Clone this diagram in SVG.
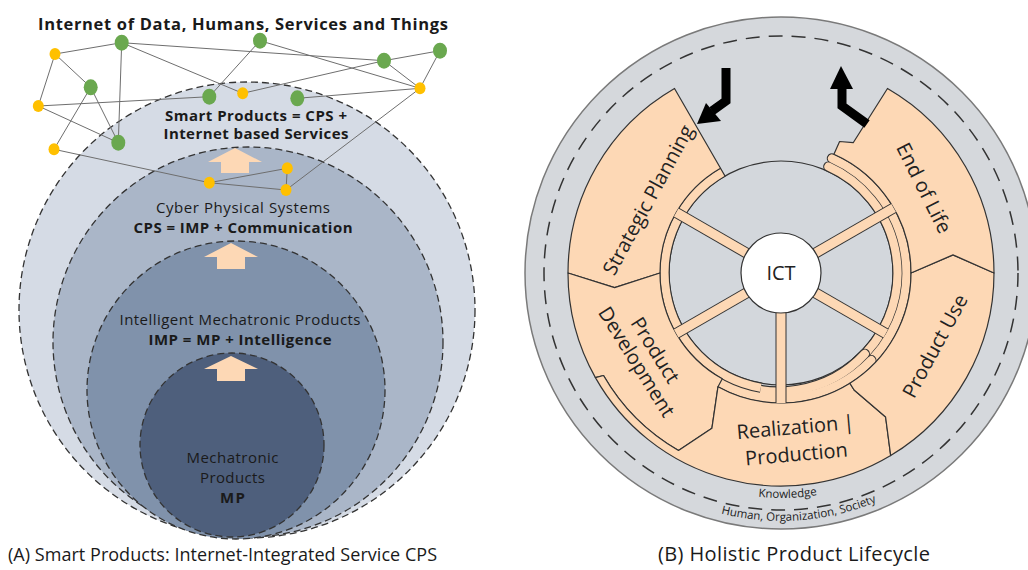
<svg xmlns="http://www.w3.org/2000/svg" width="1028" height="570" viewBox="0 0 1028 570">
  <defs>
    <style>
      .ring { stroke: #333; stroke-width: 1.3; stroke-dasharray: 7 4; }
      .edge { stroke: #6e6e6e; stroke-width: 1; fill: none; }
      .gn { fill: #6aa84f; }
      .yn { fill: #ffc000; }
      .up { fill: #fdd8b5; }
      .lbl { font-family: "Open Sans", "Noto Sans", sans-serif; fill: #1a1a1a; text-anchor: middle; }
      .b { font-weight: 700; }
      .seg { fill: #fdd8b5; stroke: #333; stroke-width: 1.2; stroke-linejoin: round; }
      .tube-o { fill: none; stroke: #333; stroke-width: 10.4; }
      .tube-i { fill: none; stroke: #fdd8b5; stroke-width: 8.2; }
      .spoke-o { stroke: #333; stroke-width: 11; }
      .spoke-i { stroke: #fdd8b5; stroke-width: 9; }
      .seglbl { font-family: "Open Sans", "Noto Sans", sans-serif; font-size: 20px; fill: #222; text-anchor: middle; }
      .ctx { font-family: "Open Sans", "Noto Sans", sans-serif; font-size: 11.5px; fill: #222; text-anchor: middle; }
      .arr { fill: none; stroke: #000; stroke-width: 9; }
    </style>
    <path id="arc-knowledge" d="M556,273 A225,225 0 0 0 1006,273"/>
    <path id="arc-society" d="M533,273 A248,248 0 0 0 1029,273"/>
  </defs>

  <rect width="1028" height="570" fill="#ffffff"/>

  <!-- ===== (A) nested product circles ===== -->
  <g id="ring-smart"><circle class="ring" cx="247" cy="310" r="228" fill="#d5dbe5"/></g>
  <g id="ring-cps"><circle class="ring" cx="248" cy="342" r="195" fill="#aab6c8"/></g>
  <g id="ring-imp"><circle class="ring" cx="236" cy="390" r="149" fill="#8092ab"/></g>
  <g id="ring-mp"><circle class="ring" cx="232" cy="445" r="92" fill="#4e5f7c"/></g>

  <!-- upward block arrows between the levels -->
  <g id="step-arrows">
    <polygon class="up" points="235,148 262,162 249,162 249,173 221,173 221,162 208,162"/>
    <polygon class="up" points="231,243 258,257 245,257 245,269 217,269 217,257 204,257"/>
    <polygon class="up" points="231,356 258,369 245,369 245,381 217,381 217,369 204,369"/>
  </g>

  <!-- network links -->
  <g id="connectors">
    <line class="edge" x1="55" y1="54" x2="121.7" y2="42.7"/>
    <line class="edge" x1="55" y1="54" x2="90.7" y2="87.3"/>
    <line class="edge" x1="55" y1="54" x2="38.3" y2="106"/>
    <line class="edge" x1="121.7" y1="42.7" x2="118.3" y2="142.7"/>
    <line class="edge" x1="121.7" y1="42.7" x2="242.7" y2="93.3"/>
    <line class="edge" x1="121.7" y1="42.7" x2="384" y2="60.7"/>
    <line class="edge" x1="260" y1="40.7" x2="209.3" y2="96.7"/>
    <line class="edge" x1="260" y1="40.7" x2="420" y2="88.3"/>
    <line class="edge" x1="384" y1="60.7" x2="440" y2="50.7"/>
    <line class="edge" x1="384" y1="60.7" x2="420" y2="88.3"/>
    <line class="edge" x1="440" y1="50.7" x2="420" y2="88.3"/>
    <line class="edge" x1="242.7" y1="93.3" x2="384" y2="60.7"/>
    <line class="edge" x1="297.3" y1="98.3" x2="420" y2="88.3"/>
    <line class="edge" x1="38.3" y1="106" x2="209.3" y2="96.7"/>
    <line class="edge" x1="38.3" y1="106" x2="118.3" y2="142.7"/>
    <line class="edge" x1="90.7" y1="87.3" x2="118.3" y2="142.7"/>
    <line class="edge" x1="90.7" y1="87.3" x2="54" y2="149.3"/>
    <line class="edge" x1="54" y1="149.3" x2="209.3" y2="182.7"/>
    <line class="edge" x1="209.3" y1="182.7" x2="287.3" y2="168.3"/>
    <line class="edge" x1="209.3" y1="182.7" x2="286" y2="190"/>
    <line class="edge" x1="287.3" y1="168.3" x2="286" y2="190"/>
    <line class="edge" x1="286" y1="190" x2="420" y2="88.3"/>
  </g>

  <!-- network nodes -->
  <g id="net-g1"><ellipse class="gn" cx="121.7" cy="42.7" rx="7" ry="8"/></g>
  <g id="net-g2"><ellipse class="gn" cx="260" cy="40.7" rx="7" ry="8"/></g>
  <g id="net-g3"><ellipse class="gn" cx="384" cy="60.7" rx="7" ry="8"/></g>
  <g id="net-g4"><ellipse class="gn" cx="440" cy="50.7" rx="7" ry="8"/></g>
  <g id="net-g5"><ellipse class="gn" cx="90.7" cy="87.3" rx="7" ry="8"/></g>
  <g id="net-g6"><ellipse class="gn" cx="209.3" cy="96.7" rx="7" ry="8"/></g>
  <g id="net-g7"><ellipse class="gn" cx="297.3" cy="98.3" rx="7" ry="8"/></g>
  <g id="net-g8"><ellipse class="gn" cx="118.3" cy="142.7" rx="7" ry="8"/></g>
  <g id="net-y1"><ellipse class="yn" cx="55" cy="54" rx="5.5" ry="6"/></g>
  <g id="net-y2"><ellipse class="yn" cx="38.3" cy="106" rx="5.5" ry="6"/></g>
  <g id="net-y3"><ellipse class="yn" cx="54" cy="149.3" rx="5.5" ry="6"/></g>
  <g id="net-y4"><ellipse class="yn" cx="242.7" cy="93.3" rx="5.5" ry="6"/></g>
  <g id="net-y5"><ellipse class="yn" cx="420" cy="88.3" rx="5.5" ry="6"/></g>
  <g id="net-y6"><ellipse class="yn" cx="287.3" cy="168.3" rx="5.5" ry="6"/></g>
  <g id="net-y7"><ellipse class="yn" cx="209.3" cy="182.7" rx="5.5" ry="6"/></g>
  <g id="net-y8"><ellipse class="yn" cx="286" cy="190" rx="5.5" ry="6"/></g>

  <!-- (A) labels -->
  <text class="lbl b" x="243" y="30" font-size="16.5" textLength="410">Internet of Data, Humans, Services and Things</text>
  <text class="lbl b" x="256" y="121" font-size="15" textLength="182">Smart Products = CPS +</text>
  <text class="lbl b" x="256" y="139" font-size="15" textLength="185">Internet based Services</text>
  <text class="lbl" x="243" y="213" font-size="15" textLength="174">Cyber Physical Systems</text>
  <text class="lbl b" x="243" y="233" font-size="15" textLength="219">CPS = IMP + Communication</text>
  <text class="lbl" x="240" y="325" font-size="15" textLength="241">Intelligent Mechatronic Products</text>
  <text class="lbl b" x="240" y="345" font-size="15" textLength="183">IMP = MP + Intelligence</text>
  <text class="lbl" x="232.5" y="463" font-size="15" textLength="92">Mechatronic</text>
  <text class="lbl" x="232.5" y="483" font-size="15" textLength="65">Products</text>
  <text class="lbl b" x="232.5" y="503" font-size="15" textLength="25">MP</text>
  <text class="lbl" x="222.5" y="561" font-size="18" textLength="429" fill="#222">(A) Smart Products: Internet-Integrated Service CPS</text>

  <!-- ===== (B) lifecycle wheel ===== -->
  <g id="context">
    <circle cx="781" cy="273" r="256" fill="#d5d8dc" stroke="#7a7a7a" stroke-width="1.5"/>
    <circle cx="781" cy="273" r="237" fill="none" stroke="#333" stroke-width="1.5" stroke-dasharray="14 9"/>
  </g>

  <g id="wheel-disc"><circle cx="781" cy="273" r="112" fill="#d3d7dc" stroke="#333" stroke-width="1.2"/></g>

  <!-- rim tubes round the wheel -->
  <g id="rim">
    <path class="tube-o" stroke-linecap="round" d="M828.4,166.6 A116.5,116.5 0 0 1 855.9,362.3"/>
    <path class="tube-o" stroke-linecap="round" d="M832,158.4 A125.5,125.5 0 0 1 861.7,369.1"/>
    <path class="tube-i" stroke-linecap="round" d="M828.4,166.6 A116.5,116.5 0 0 1 855.9,362.3"/>
    <path class="tube-i" stroke-linecap="round" d="M832,158.4 A125.5,125.5 0 0 1 861.7,369.1"/>
    <path class="tube-o" stroke-linecap="round" d="M722.9,376.9 A116.5,116.5 0 0 0 864.8,353.9"/>
    <path class="tube-o" stroke-linecap="round" d="M718.2,381.7 A125.5,125.5 0 0 0 871.3,360.2"/>
    <path class="tube-i" stroke-linecap="round" d="M722.9,376.9 A116.5,116.5 0 0 0 864.8,353.9"/>
    <path class="tube-i" stroke-linecap="round" d="M718.2,381.7 A125.5,125.5 0 0 0 871.3,360.2"/>
    <path class="tube-o" d="M760.8,387.7 A116.5,116.5 0 0 1 722.75,172.1"/>
    <path class="tube-i" d="M760.8,387.7 A116.5,116.5 0 0 1 722.75,172.1"/>
  </g>

  <!-- lifecycle phases -->
  <g id="phase-strategic-planning">
    <path class="seg" d="M674.5,88.5 A213,213 0 0 0 568,273 L614.6,287.6 L660,273 A121,121 0 0 1 720.5,168.2 L725,176 Z"/>
    <text class="seglbl" transform="translate(648,200) rotate(-61.5)" dy="7">Strategic Planning</text>
  </g>
  <g id="phase-product-development">
    <path class="seg" d="M568,273 L614.6,287.6 L660,273 A121,121 0 0 0 722.3,378.8 L718,386.7 L711.9,428.3 L678.5,450.5 A205,205 0 0 1 603.5,375.5 L595.4,377.6 A213,213 0 0 1 568,273 Z"/>
    <text class="seglbl" transform="translate(646,356) rotate(58)"><tspan x="0" y="-4">Product</tspan><tspan x="0" y="18">Development</tspan></text>
  </g>
  <g id="phase-realization">
    <path class="seg" d="M595.4,377.6 L603.5,375.5 A205,205 0 0 0 678.5,450.5 L711.9,428.3 L718,386.7 A130,130 0 0 0 849.9,383.2 L854.1,390 L885.6,417 L890.7,455.6 A213,213 0 0 1 595.4,377.6 Z"/>
    <text class="seglbl" transform="translate(796,434) rotate(-5)">Realization |</text>
    <text class="seglbl" transform="translate(797,461) rotate(-5)">Production</text>
  </g>
  <g id="phase-product-use">
    <path class="seg" d="M854.1,390 L885.6,417 L890.7,455.6 A213,213 0 0 0 994,273 L953,254.9 L911,273 A130,130 0 0 1 849.9,383.2 Z"/>
    <text class="seglbl" transform="translate(935,346) rotate(-61.5)" dy="7">Product Use</text>
  </g>
  <g id="phase-end-of-life">
    <path class="seg" d="M887.5,88.5 A213,213 0 0 1 994,273 L953,254.9 L911,273 A130,130 0 0 0 833.9,154.2 L839.6,141.5 L853.2,142.7 Z"/>
    <text class="seglbl" transform="translate(924,188) rotate(63.4)" dy="7">End of Life</text>
  </g>

  <!-- spokes from the ICT hub -->
  <g id="spokes">
    <line class="spoke-o" x1="755" y1="258" x2="676.2" y2="212.5"/>
    <line class="spoke-o" x1="807" y1="258" x2="893.6" y2="208"/>
    <line class="spoke-o" x1="807" y1="288" x2="885.8" y2="333.5"/>
    <line class="spoke-o" x1="755" y1="288" x2="676.2" y2="333.5"/>
    <line class="spoke-o" x1="781" y1="303" x2="781" y2="403"/>
    <line class="spoke-i" x1="755" y1="258" x2="676.2" y2="212.5"/>
    <line class="spoke-i" x1="807" y1="258" x2="893.6" y2="208"/>
    <line class="spoke-i" x1="807" y1="288" x2="885.8" y2="333.5"/>
    <line class="spoke-i" x1="755" y1="288" x2="676.2" y2="333.5"/>
    <line class="spoke-i" x1="781" y1="303" x2="781" y2="403"/>
  </g>

  <g id="hub-ict">
    <circle cx="781" cy="273" r="40" fill="#ffffff" stroke="#333" stroke-width="1.2"/>
    <text class="seglbl" x="781" y="280">ICT</text>
  </g>

  <!-- flow into planning and out of end of life -->
  <g id="flow-arrows">
    <polyline class="arr" points="726,68 726,101 712,111"/>
    <polygon points="697,124 706,103 721,121" fill="#000"/>
    <polyline class="arr" points="867,124 842,106 842,87"/>
    <polygon points="841,66 830,89 853,89" fill="#000"/>
  </g>

  <g id="context-labels">
    <text class="ctx"><textPath href="#arc-knowledge" startOffset="360">Knowledge</textPath></text>
    <text class="ctx"><textPath href="#arc-society" startOffset="408">Human, Organization, Society</textPath></text>
  </g>

  <text class="lbl" x="794" y="561" font-size="20" textLength="272" fill="#222">(B) Holistic Product Lifecycle</text>
</svg>
